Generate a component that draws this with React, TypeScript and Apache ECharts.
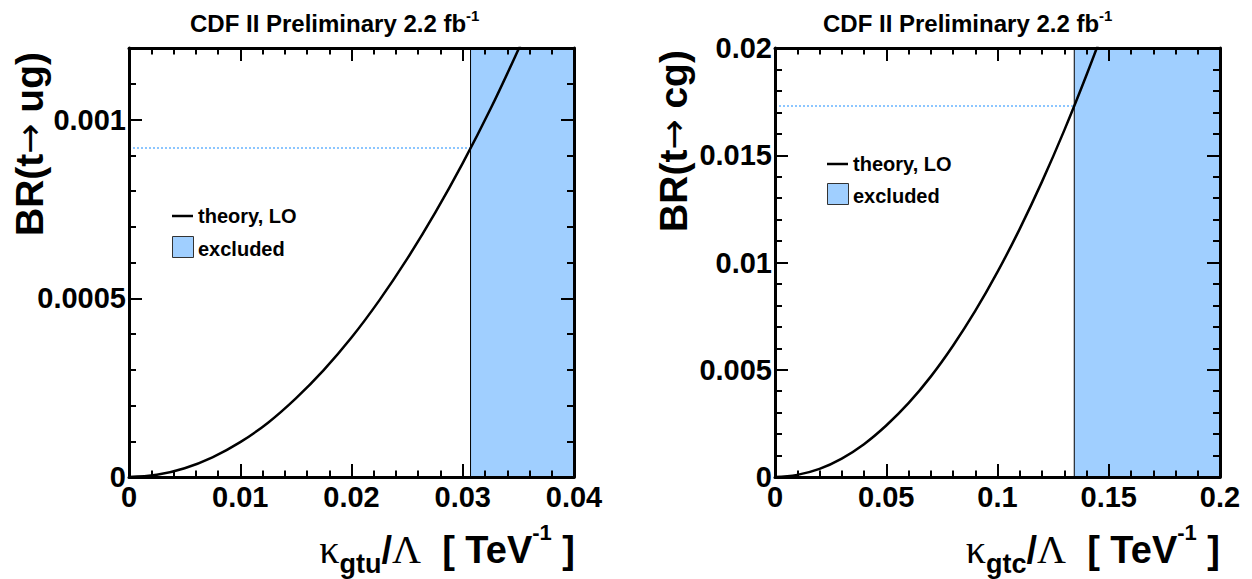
import React, { useEffect, useRef } from "react";
import * as echarts from "echarts";

// ---------- data ----------
// left panel: BR(t -> ug) vs kappa_gtu / Lambda
const kappaU = [0, 0.0025, 0.005, 0.0075, 0.01, 0.0125, 0.015, 0.0175, 0.02, 0.0225, 0.025, 0.0275, 0.03, 0.0325, 0.035, 0.0375];
const brU = [0, 0.000006, 0.0000245, 0.000055, 0.0000975, 0.000152, 0.00022, 0.000299, 0.00039, 0.000494, 0.00061, 0.000738, 0.000878, 0.00103, 0.001196, 0.00137];
const limitKappaU = 0.0307;
const limitBrU = 0.00092;
const xTicksU = [0, 0.01, 0.02, 0.03, 0.04];
const xTickLabelsU = ["0", "0.01", "0.02", "0.03", "0.04"];
const yTicksU = [0, 0.0005, 0.001];
const yTickLabelsU = ["0", "0.0005", "0.001"];

// right panel: BR(t -> cg) vs kappa_gtc / Lambda
const kappaC = [0, 0.01, 0.02, 0.03, 0.04, 0.05, 0.06, 0.07, 0.08, 0.09, 0.1, 0.11, 0.12, 0.13, 0.14, 0.15];
const brC = [0, 0.0001, 0.00038, 0.00086, 0.00153, 0.0024, 0.00344, 0.00468, 0.00612, 0.00774, 0.00956, 0.01157, 0.01377, 0.01616, 0.01874, 0.0215];
const limitKappaC = 0.1345;
const limitBrC = 0.0173;
const xTicksC = [0, 0.05, 0.1, 0.15, 0.2];
const xTickLabelsC = ["0", "0.05", "0.1", "0.15", "0.2"];
const yTicksC = [0, 0.005, 0.01, 0.015, 0.02];
const yTickLabelsC = ["0", "0.005", "0.01", "0.015", "0.02"];

const titleText = "CDF II Preliminary 2.2 fb";
const titleSup = "-1";
const yNameU = ["BR(t", "\u2192", " ug)"];
const yNameC = ["BR(t", "\u2192", " cg)"];
const legendLine = "theory, LO";
const legendBox = "excluded";

// ---------- styles ----------
const SANS = "'Liberation Sans', Arial, Helvetica, sans-serif";
const SERIF = "'Liberation Serif', 'Times New Roman', serif";
const EXCL = "#a0cfff";
const DOT = "#8cc6ff";

const labelFmt = (ticks: number[], labels: string[]) => (v: number) => {
  const i = ticks.findIndex((t) => Math.abs(t - v) < 1e-9);
  return i >= 0 ? labels[i] : "";
};

const tickLine = { color: "#000", width: 2 };
const LABEL_SIZE = 29;

function xAxisDef(gridIndex: number, max: number, interval: number, position: string, ticks?: number[], labels?: string[]) {
  return {
    type: "value",
    gridIndex,
    min: 0,
    max,
    interval,
    position,
    z: 10,
    axisLine: { show: true, onZero: false, lineStyle: { color: "#000", width: 3 } },
    axisTick: { show: true, inside: true, length: 13, lineStyle: tickLine },
    minorTick: { show: true, splitNumber: 5, length: 6.5, lineStyle: tickLine },
    splitLine: { show: false },
    minorSplitLine: { show: false },
    axisLabel: ticks
      ? { show: true, color: "#000", fontSize: LABEL_SIZE, fontWeight: "bold", fontFamily: SANS, margin: 5, formatter: labelFmt(ticks, labels as string[]) }
      : { show: false },
  };
}

function yAxisDef(
  gridIndex: number,
  max: number,
  interval: number,
  position: string,
  opts: { ticks?: number[]; labels?: string[]; minorSplit?: number; tickLen?: number; line?: boolean }
) {
  return {
    type: "value",
    gridIndex,
    min: 0,
    max,
    interval,
    position,
    z: 10,
    axisLine: { show: opts.line !== false, onZero: false, lineStyle: { color: "#000", width: 3 } },
    axisTick: { show: true, inside: true, length: opts.tickLen ?? 13, lineStyle: tickLine },
    minorTick: opts.minorSplit
      ? { show: true, splitNumber: opts.minorSplit, length: 7, lineStyle: tickLine }
      : { show: false },
    splitLine: { show: false },
    minorSplitLine: { show: false },
    axisLabel: opts.ticks
      ? { show: true, color: "#000", fontSize: LABEL_SIZE, fontWeight: "bold", fontFamily: SANS, margin: 3, formatter: labelFmt(opts.ticks, opts.labels as string[]) }
      : { show: false },
  };
}

function titleGraphic(x: number) {
  return {
    type: "text",
    x,
    y: 23.4,
    style: {
      text: `{a|${titleText}}{s|${titleSup}}`,
      align: "left",
      verticalAlign: "middle",
      rich: {
        a: { fontFamily: SANS, fontWeight: "bold", fontSize: 24, lineHeight: 30, fill: "#000" },
        s: { fontFamily: SANS, fontWeight: "bold", fontSize: 15, lineHeight: 14, verticalAlign: "top", fill: "#000" },
      },
    },
  };
}

function xNameGraphic(xRight: number, sub: string) {
  return {
    type: "text",
    x: xRight,
    y: 549.8,
    style: {
      text: `{k|\u03BA}{s|${sub}}{m|/}{k|\u039B}{m|  [ TeV}{p|-1}{m| ]}`,
      align: "right",
      verticalAlign: "middle",
      rich: {
        k: { fontFamily: SERIF, fontSize: 40, lineHeight: 56, fill: "#000" },
        m: { fontFamily: SANS, fontWeight: "bold", fontSize: 38, lineHeight: 56, fill: "#000" },
        s: { fontFamily: SANS, fontWeight: "bold", fontSize: 27, lineHeight: 28, verticalAlign: "bottom", fill: "#000" },
        p: { fontFamily: SANS, fontWeight: "bold", fontSize: 22, lineHeight: 31, verticalAlign: "top", fill: "#000" },
      },
    },
  };
}

function yNameGraphic(x: number, y: number, parts: string[]) {
  return {
    type: "text",
    x,
    y,
    rotation: Math.PI / 2,
    style: {
      text: `{a|${parts[0]}}{r|${parts[1]}}{a|${parts[2]}}`,
      align: "center",
      verticalAlign: "middle",
      rich: {
        a: { fontFamily: SANS, fontWeight: "bold", fontSize: 39, lineHeight: 46, fill: "#000" },
        r: { fontFamily: "'DejaVu Sans', sans-serif", fontWeight: "normal", fontSize: 36, lineHeight: 46, fill: "#000" },
      },
    },
  };
}

function legendGraphics(x: number, yLine: number, yBox: number) {
  return [
    { type: "line", shape: { x1: x, y1: yLine, x2: x + 21, y2: yLine }, style: { stroke: "#000", lineWidth: 2.5 } },
    {
      type: "text",
      x: x + 26,
      y: yLine,
      style: { text: legendLine, fontFamily: SANS, fontWeight: "bold", fontSize: 20, fill: "#000", align: "left", verticalAlign: "middle" },
    },
    { type: "rect", shape: { x: x + 0.5, y: yBox + 0.5, width: 21, height: 21 }, style: { fill: EXCL, stroke: "#333", lineWidth: 1 } },
    {
      type: "text",
      x: x + 26,
      y: yBox + 13,
      style: { text: legendBox, fontFamily: SANS, fontWeight: "bold", fontSize: 20, fill: "#000", align: "left", verticalAlign: "middle" },
    },
  ];
}

export default function App() {
  const ref = useRef<HTMLDivElement>(null);

  useEffect(() => {
    if (!ref.current) return;
    const chart = echarts.init(ref.current, undefined, { renderer: "svg" });

    const option = {
      animation: false,
      backgroundColor: "#fff",
      grid: [
        { left: 129, top: 48, width: 445, height: 429, containLabel: false },
        { left: 775, top: 48, width: 445, height: 429, containLabel: false },
      ],
      xAxis: [
        xAxisDef(0, 0.04, 0.01, "bottom", xTicksU, xTickLabelsU),
        xAxisDef(0, 0.04, 0.01, "top"),
        xAxisDef(1, 0.2, 0.05, "bottom", xTicksC, xTickLabelsC),
        xAxisDef(1, 0.2, 0.05, "top"),
      ],
      yAxis: [
        yAxisDef(0, 0.0012, 0.0005, "left", { ticks: yTicksU, labels: yTickLabelsU }),
        yAxisDef(0, 0.0012, 0.0005, "right", {}),
        yAxisDef(0, 0.0012, 0.0001, "left", { tickLen: 7, line: false }),
        yAxisDef(0, 0.0012, 0.0001, "right", { tickLen: 7, line: false }),
        yAxisDef(1, 0.02, 0.005, "left", { ticks: yTicksC, labels: yTickLabelsC, minorSplit: 5 }),
        yAxisDef(1, 0.02, 0.005, "right", { minorSplit: 5 }),
      ],
      series: [
        {
          type: "line",
          xAxisIndex: 0,
          yAxisIndex: 0,
          data: [
            [0, limitBrU],
            [limitKappaU, limitBrU],
          ],
          symbol: "none",
          lineStyle: { color: DOT, width: 2, type: [2, 2] },
          z: 2,
          markArea: {
            silent: true,
            itemStyle: { color: EXCL, borderColor: "#000", borderWidth: 1 },
            data: [[{ xAxis: limitKappaU, yAxis: 0 }, { xAxis: 0.04, yAxis: 0.0012 }]],
          },
        },
        {
          type: "line",
          xAxisIndex: 0,
          yAxisIndex: 0,
          data: kappaU.map((k, i) => [k, brU[i]]),
          symbol: "none",
          smooth: 0.4,
          lineStyle: { color: "#000", width: 2.5 },
          z: 3,
        },
        {
          type: "line",
          xAxisIndex: 2,
          yAxisIndex: 4,
          data: [
            [0, limitBrC],
            [limitKappaC, limitBrC],
          ],
          symbol: "none",
          lineStyle: { color: DOT, width: 2, type: [2, 2] },
          z: 2,
          markArea: {
            silent: true,
            itemStyle: { color: EXCL, borderColor: "#000", borderWidth: 1 },
            data: [[{ xAxis: limitKappaC, yAxis: 0 }, { xAxis: 0.2, yAxis: 0.02 }]],
          },
        },
        {
          type: "line",
          xAxisIndex: 2,
          yAxisIndex: 4,
          data: kappaC.map((k, i) => [k, brC[i]]),
          symbol: "none",
          smooth: 0.4,
          lineStyle: { color: "#000", width: 2.5 },
          z: 3,
        },
      ],
      graphic: [
        titleGraphic(190),
        titleGraphic(823),
        yNameGraphic(29.5, 144, yNameU),
        yNameGraphic(673.5, 141, yNameC),
        xNameGraphic(575, "gtu"),
        xNameGraphic(1220, "gtc"),
        ...legendGraphics(172, 216, 236),
        ...legendGraphics(827, 164, 183),
      ],
    };

    chart.setOption(option as any);
    return () => chart.dispose();
  }, []);

  return <div ref={ref} style={{ position: "absolute", left: 0, top: 0, width: 1252, height: 579 }} />;
}
